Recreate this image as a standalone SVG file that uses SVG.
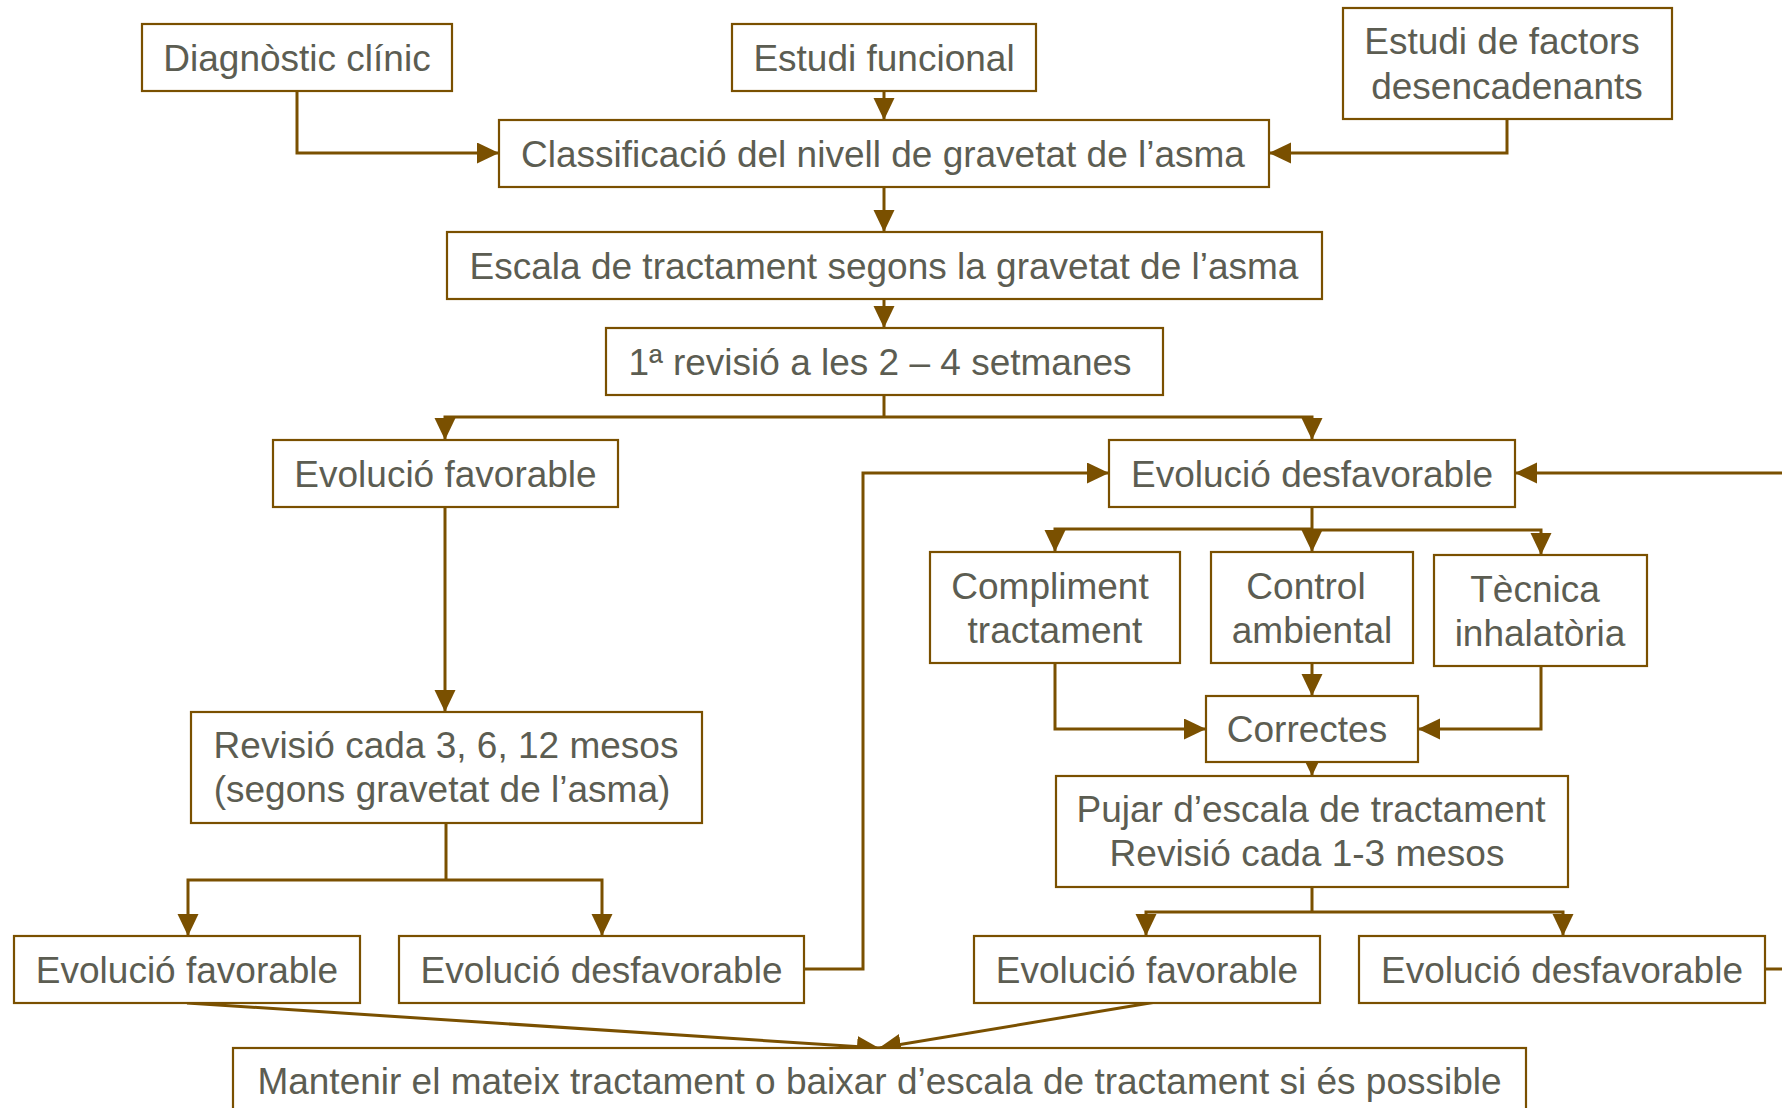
<svg xmlns="http://www.w3.org/2000/svg" width="1782" height="1108" viewBox="0 0 1782 1108">
<defs>
<style>
.box{fill:#ffffff;stroke:#7a5000;stroke-width:2.2}
.t{font-family:"Liberation Sans",Arial,sans-serif;font-size:37px;fill:#5c5d52;text-anchor:middle}
.c{fill:none;stroke:#7a5000;stroke-width:3}
.a{marker-end:url(#ah)}
</style>
<marker id="ah" markerUnits="userSpaceOnUse" markerWidth="24" markerHeight="22" refX="22" refY="10.5" orient="auto" viewBox="0 0 24 22">
<path d="M0,0 L22,10.5 L0,21 z" fill="#7a5000"/>
</marker>
</defs>
<rect width="1782" height="1108" fill="#ffffff"/>
<g id="connectors">
<path class="c a" d="M297,91 V153 H499"/>
<path class="c a" d="M884,91 V120"/>
<path class="c a" d="M1507,119 V153 H1269"/>
<path class="c a" d="M884,187 V232"/>
<path class="c a" d="M884,299 V328"/>
<path class="c" d="M884,395 V417"/>
<path class="c a" d="M884,417 H445 V440"/>
<path class="c a" d="M884,417 H1312 V440"/>
<path class="c a" d="M445,507 V712"/>
<path class="c a" d="M804,969 H863 V473 H1109"/>
<path class="c a" d="M1765,969 H1792 V473 H1515"/>
<path class="c" d="M1312,507 V529"/>
<path class="c a" d="M1312,529 H1055 V552"/>
<path class="c a" d="M1312,529 V552"/>
<path class="c a" d="M1312,530 H1541 V555"/>
<path class="c a" d="M1312,663 V696"/>
<path class="c a" d="M1055,663 V729 H1206"/>
<path class="c a" d="M1541,666 V729 H1418"/>
<path class="c a" d="M1312,754 V776"/>
<path class="c" d="M446,823 V880"/>
<path class="c a" d="M446,880 H188 V936"/>
<path class="c a" d="M446,880 H602 V936"/>
<path class="c" d="M1312,887 V912"/>
<path class="c a" d="M1312,912 H1146 V936"/>
<path class="c a" d="M1312,912 H1563 V936"/>
<path class="c a" d="M187,1003 L879,1048"/>
<path class="c a" d="M1162,1001 L879,1048"/>
</g>
<g id="diagnostic"><rect class="box" x="142" y="24" width="310" height="67"/><text class="t" x="297" y="70.5">Diagnòstic clínic</text></g>
<g id="funcional"><rect class="box" x="732" y="24" width="304" height="67"/><text class="t" x="884" y="70.5">Estudi funcional</text></g>
<g id="factors"><rect class="box" x="1343" y="8" width="329" height="111"/><text class="t" x="1502" y="54">Estudi de factors</text><text class="t" x="1507" y="99">desencadenants</text></g>
<g id="classificacio"><rect class="box" x="499" y="120" width="770" height="67"/><text class="t" x="883" y="166.5">Classificació del nivell de gravetat de l’asma</text></g>
<g id="escala"><rect class="box" x="447" y="232" width="875" height="67"/><text class="t" x="884" y="278.5">Escala de tractament segons la gravetat de l’asma</text></g>
<g id="revisio1"><rect class="box" x="606" y="328" width="557" height="67"/><text class="t" x="880" y="374.5">1ª revisió a les 2 – 4 setmanes</text></g>
<g id="evfav1"><rect class="box" x="273" y="440" width="345" height="67"/><text class="t" x="445.5" y="486.5">Evolució favorable</text></g>
<g id="evdes1"><rect class="box" x="1109" y="440" width="406" height="67"/><text class="t" x="1312" y="486.5">Evolució desfavorable</text></g>
<g id="compliment"><rect class="box" x="930" y="552" width="250" height="111"/><text class="t" x="1050" y="599">Compliment</text><text class="t" x="1055" y="643">tractament</text></g>
<g id="control"><rect class="box" x="1211" y="552" width="202" height="111"/><text class="t" x="1306" y="599">Control</text><text class="t" x="1312" y="643">ambiental</text></g>
<g id="tecnica"><rect class="box" x="1434" y="555" width="213" height="111"/><text class="t" x="1535" y="602">Tècnica</text><text class="t" x="1540" y="646">inhalatòria</text></g>
<g id="correctes"><rect class="box" x="1206" y="696" width="212" height="66"/><text class="t" x="1307" y="742">Correctes</text></g>
<g id="pujar"><rect class="box" x="1056" y="776" width="512" height="111"/><text class="t" x="1311" y="822">Pujar d’escala de tractament</text><text class="t" x="1307" y="866">Revisió cada 1-3 mesos</text></g>
<g id="revisio"><rect class="box" x="191" y="712" width="511" height="111"/><text class="t" x="446" y="758">Revisió cada 3, 6, 12 mesos</text><text class="t" x="442" y="802">(segons gravetat de l’asma)</text></g>
<g id="evfav2"><rect class="box" x="14" y="936" width="346" height="67"/><text class="t" x="187" y="982.5">Evolució favorable</text></g>
<g id="evdes2"><rect class="box" x="399" y="936" width="405" height="67"/><text class="t" x="601.5" y="982.5">Evolució desfavorable</text></g>
<g id="evfav3"><rect class="box" x="974" y="936" width="346" height="67"/><text class="t" x="1147" y="982.5">Evolució favorable</text></g>
<g id="evdes3"><rect class="box" x="1359" y="936" width="406" height="67"/><text class="t" x="1562" y="982.5">Evolució desfavorable</text></g>
<g id="mantenir"><rect class="box" x="233" y="1048" width="1293" height="80"/><text class="t" x="879.5" y="1094">Mantenir el mateix tractament o baixar d’escala de tractament si és possible</text></g>
</svg>
